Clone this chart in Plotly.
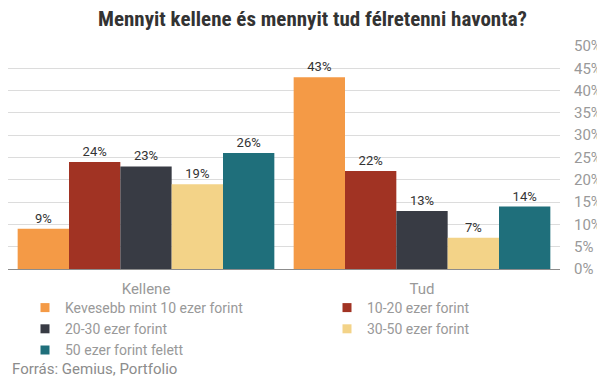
import plotly.graph_objects as go

categories = ["Kellene", "Tud"]
series_names = [
    "Kevesebb mint 10 ezer forint",
    "10-20 ezer forint",
    "20-30 ezer forint",
    "30-50 ezer forint",
    "50 ezer forint felett",
]
values_lt10 = [9, 43]
values_10_20 = [24, 22]
values_20_30 = [23, 13]
values_30_50 = [19, 7]
values_gt50 = [26, 14]
series_values = [values_lt10, values_10_20, values_20_30, values_30_50, values_gt50]
colors = ["#F49A46", "#A13323", "#383B44", "#F3D388", "#1F6F7B"]
legend_ids = ["legend", "legend2", "legend", "legend2", "legend"]
y_ticks = list(range(0, 51, 5))

# page has an 8px body margin, so the figure is laid out in coordinates offset by 8px
OFF = 8
W, H = 605 - OFF, 378 - OFF
L, R, T, B = 8 - OFF, W - (560 - OFF), 46 - OFF, H - (269 - OFF)
pw = W - L - R
ph = H - T - B

fig = go.Figure()
for name, vals, col in zip(series_names, series_values, colors):
    fig.add_trace(go.Bar(
        x=categories, y=vals, name=name, marker=dict(color=col, line=dict(width=0)),
        text=[f"{v}%" for v in vals], textposition="outside",
        textfont=dict(family="Roboto", size=13, color="#333333"),
        cliponaxis=False, showlegend=False,
    ))
# legend entries
for name, col, lg in zip(series_names, colors, legend_ids):
    fig.add_trace(go.Scatter(
        x=[None], y=[None], mode="markers", name=name, legend=lg,
        marker=dict(symbol="square", size=9, color=col), showlegend=True,
    ))

def px_x(px):
    return (px - OFF - L) / pw

def px_y(py):
    return (H - B - (py - OFF)) / ph

legend_font = dict(family="Roboto", size=14, color="#999999")
fig.update_layout(
    width=W, height=H,
    margin=dict(l=L, r=R, t=T, b=B, pad=0, autoexpand=False),
    paper_bgcolor="white", plot_bgcolor="white",
    barmode="group", bargap=0.07, bargroupgap=0,
    title=dict(
        text="<b>Mennyit kellene és mennyit tud félretenni havonta?</b>",
        font=dict(family="Roboto Condensed, Roboto", size=21, color="#333333"),
        x=(312.5 - OFF) / W, xanchor="center", xref="container",
        y=1 - (19 - OFF) / H, yanchor="middle", yref="container",
        automargin=False,
    ),
    xaxis=dict(
        type="category", showgrid=False, showline=True, linecolor="#8c8c8c", linewidth=1,
        ticks="", tickfont=dict(family="Roboto", size=15, color="#999999"),
        ticklabelstandoff=6, fixedrange=True, automargin=False,
    ),
    yaxis=dict(
        side="right", range=[0, 50], tickvals=y_ticks, ticktext=[f"{v}%" for v in y_ticks],
        showgrid=True, gridcolor="#dcdcdc", gridwidth=1, zeroline=False, showline=False,
        ticks="", tickfont=dict(family="Roboto", size=15, color="#999999"),
        ticklabelstandoff=13, fixedrange=True, automargin=False,
    ),
    legend=dict(
        orientation="v", x=px_x(25), xanchor="left", y=px_y(292), yanchor="top",
        font=legend_font, bgcolor="rgba(0,0,0,0)", borderwidth=0, tracegroupgap=0,
        itemclick=False, itemdoubleclick=False,
    ),
    legend2=dict(
        orientation="v", x=px_x(327), xanchor="left", y=px_y(292), yanchor="top",
        font=legend_font, bgcolor="rgba(0,0,0,0)", borderwidth=0, tracegroupgap=0,
        itemclick=False, itemdoubleclick=False,
    ),
    annotations=[dict(
        text="Forrás: Gemius, Portfolio", xref="paper", yref="paper",
        x=px_x(10), y=px_y(369), xanchor="left", yanchor="middle", showarrow=False,
        font=dict(family="Roboto", size=15, color="#8c8c8c"),
    )],
)

fig.write_html("out.html", config={"displayModeBar": False})
